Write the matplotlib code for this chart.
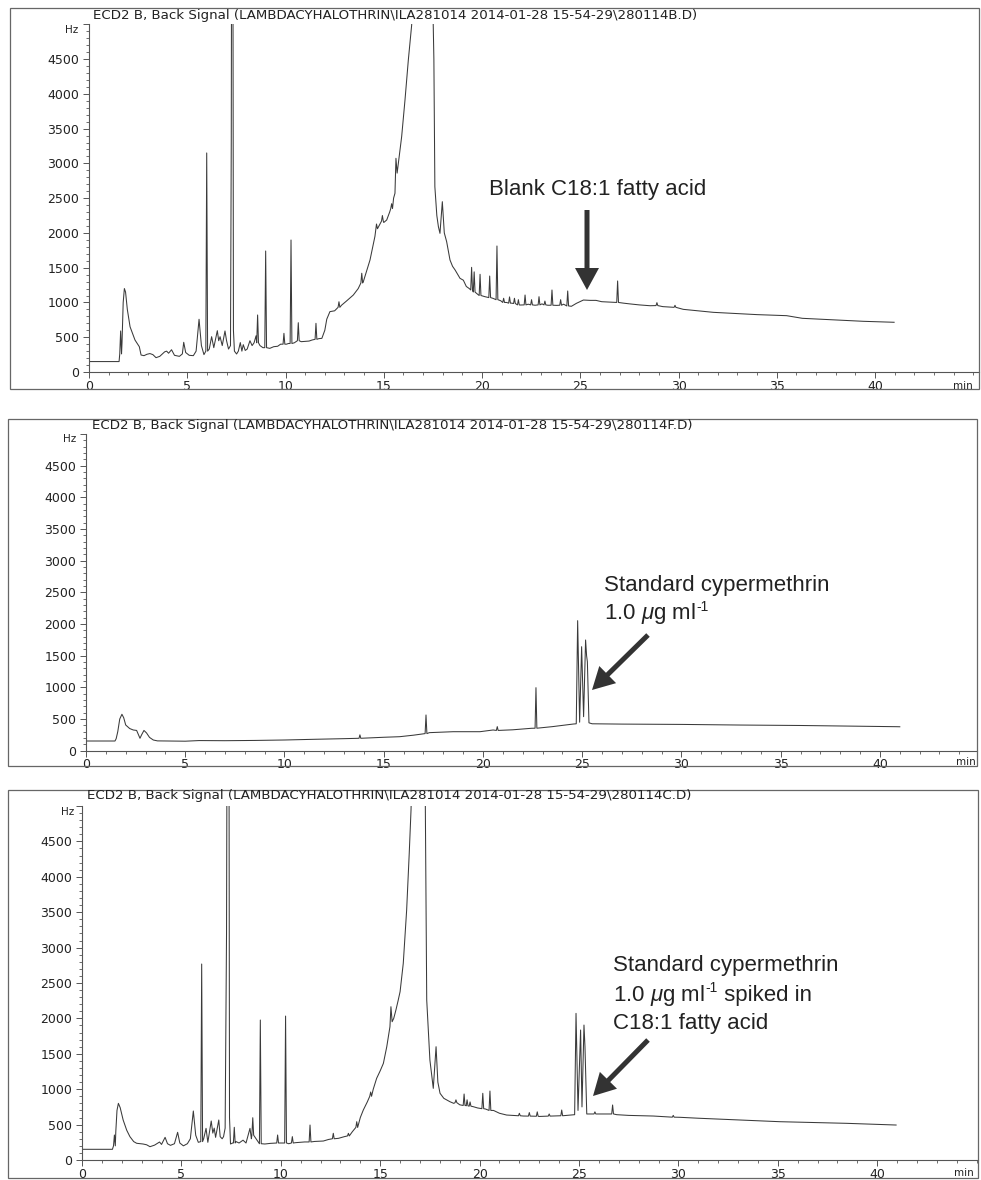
import numpy as np
import matplotlib
matplotlib.use("Agg")
import matplotlib.pyplot as plt
from matplotlib.patches import Rectangle, FancyArrow
from matplotlib.ticker import MultipleLocator

plt.rcParams["font.family"] = ["DejaVu Sans"]
plt.rcParams["mathtext.fontset"] = "custom"
plt.rcParams["mathtext.rm"] = "Liberation Sans"
plt.rcParams["mathtext.it"] = "Liberation Sans:italic"

TITLES = [
    "ECD2 B, Back Signal (LAMBDACYHALOTHRIN\\ILA281014 2014-01-28 15-54-29\\280114B.D)",
    "ECD2 B, Back Signal (LAMBDACYHALOTHRIN\\ILA281014 2014-01-28 15-54-29\\280114F.D)",
    "ECD2 B, Back Signal (LAMBDACYHALOTHRIN\\ILA281014 2014-01-28 15-54-29\\280114C.D)",
]
YTICKS = [0, 500, 1000, 1500, 2000, 2500, 3000, 3500, 4000, 4500]
XTICKS = [0, 5, 10, 15, 20, 25, 30, 35, 40]

# --- blank C18:1 fatty acid (B.D): slow baseline knots (min, Hz) ---
b_t = [0, 1.53, 1.68, 1.74, 1.80, 1.86, 1.95, 2.09, 2.34, 2.56, 2.65, 2.80, 2.95,
       3.10, 3.25, 3.41, 3.60, 3.85, 3.95, 4.05, 4.20, 4.35, 4.60, 4.75, 4.82,
       4.92, 5.10, 5.31, 5.45, 5.60, 5.72, 5.85, 6.12, 6.24, 6.35, 6.53, 6.60,
       6.67, 6.78, 6.92, 7.00, 7.10, 7.20, 7.24, 7.27, 7.31, 7.35, 7.40, 7.51,
       7.60, 7.70, 7.78, 7.85, 7.95, 8.05, 8.19, 8.30, 8.40, 8.50, 8.70, 8.85,
       9.20, 9.40, 9.60, 9.75, 10.05, 10.15, 10.45, 10.80, 11.00, 11.20, 11.35,
       11.70, 11.85, 12.00, 12.10, 12.26, 12.50, 12.85, 13.10, 13.45, 13.70,
       13.96, 14.30, 14.55, 14.63, 14.68, 15.00, 15.15, 15.30, 15.50, 15.57,
       15.62, 15.68, 15.74, 15.91, 16.08, 16.25, 16.42, 16.50, 17.45, 17.55,
       17.60, 17.70, 17.78, 17.86, 17.98, 18.08, 18.20, 18.37, 18.50, 18.63,
       18.88, 19.05, 19.20, 19.35, 19.72, 20.15, 20.55, 20.95, 21.25, 21.50,
       21.93, 22.35, 22.70, 23.05, 23.35, 23.80, 24.15, 24.55, 24.80, 25.16,
       25.50, 25.80, 26.09, 26.50, 26.75, 27.20, 27.50, 28.00, 28.55, 29.20,
       29.50, 30.24, 31.00, 31.77, 33.00, 34.00, 35.50, 36.30, 37.50, 39.40,
       40.97]
b_y = [150, 150, 420, 1000, 1200, 1150, 900, 650, 460, 364, 244, 235, 255,
       265, 250, 206, 225, 290, 300, 270, 320, 240, 225, 260, 427,
       280, 240, 235, 300, 758, 380, 250, 330, 508, 350, 594, 450,
       508, 380, 590, 450, 330, 380, 3350, 9000, 9000, 600, 300, 259,
       300, 423, 300, 393, 310, 330, 450, 380, 420, 520, 380, 350,
       340, 364, 370, 400, 400, 410, 420, 436, 440, 445, 460,
       480, 484, 600, 760, 868, 880, 960, 1020, 1107, 1200,
       1299, 1611, 1950, 2128, 2060, 2150, 2186, 2300, 2500, 2570,
       3073, 2860, 3000, 3384, 3911, 4487, 4990, 6000, 6000, 4500,
       2665, 2250, 2090, 1994, 2449, 2000, 1874, 1611, 1520, 1467,
       1347, 1320, 1230, 1200, 1131, 1083, 1060, 1025, 1000, 990,
       963, 975, 960, 980, 960, 958, 975, 945, 987, 1035,
       1030, 1030, 1011, 1005, 1000, 990, 980, 965, 953, 940,
       935, 901, 880, 858, 840, 825, 810, 772, 755, 729,
       715]
# narrow peaks: time, base, apex
b_pk_t = [1.61, 5.99, 8.58, 8.99, 9.92, 10.28, 10.65, 11.55, 12.72, 13.88,
          14.93, 15.40, 19.47, 19.60, 19.90, 20.39, 20.76, 21.10, 21.40, 21.65,
          21.85, 22.19, 22.52, 22.90, 23.20, 23.56, 24.00, 24.36, 26.90, 28.90,
          29.82]
b_pk_base = [260, 300, 420, 350, 400, 410, 450, 470, 930, 1280,
             2170, 2350, 1180, 1150, 1100, 1070, 1040, 1000, 990, 985,
             965, 965, 965, 965, 965, 960, 960, 950, 1000, 955,
             930]
b_pk_top = [590, 3150, 820, 1740, 556, 1898, 709, 700, 1010, 1420,
            2250, 2420, 1505, 1440, 1405, 1380, 1812, 1060, 1080, 1060,
            1040, 1107, 1040, 1083, 1020, 1179, 1040, 1165, 1309, 997,
            959]

# --- standard cypermethrin 1.0 ug/ml (F.D) ---
f_t = [0, 1.46, 1.52, 1.60, 1.70, 1.81, 1.90, 2.00, 2.20, 2.38, 2.55, 2.72,
       2.80, 2.92, 3.05, 3.20, 3.39, 3.60, 5.00, 5.70, 7.00, 8.50, 10.00,
       11.50, 13.00, 15.00, 15.80, 16.50, 17.30, 18.50, 19.85, 20.51, 21.50,
       22.45, 23.50, 24.55, 24.70, 24.77, 24.87, 24.97, 25.07, 25.17, 25.22,
       25.26, 25.34, 25.50, 27.00, 30.00, 33.00, 36.00, 40.84, 41.00]
f_y = [153, 153, 190, 300, 500, 575, 520, 406, 350, 327, 320, 196,
       250, 320, 280, 210, 169, 155, 150, 160, 158, 162, 169,
       180, 190, 212, 221, 245, 285, 300, 300, 327, 330,
       354, 380, 421, 425, 2053, 450, 1642, 537, 1748, 1500,
       1405, 440, 425, 420, 415, 405, 398, 379, 378]
f_pk_t = [13.80, 17.13, 20.72, 22.67]
f_pk_base = [196, 270, 320, 355]
f_pk_top = [250, 564, 380, 995]

# --- cypermethrin spiked in C18:1 fatty acid (C.D) ---
c_t = [0, 1.53, 1.70, 1.76, 1.83, 1.92, 2.07, 2.25, 2.41, 2.60, 2.75, 3.07,
       3.25, 3.42, 3.65, 3.90, 4.00, 4.18, 4.30, 4.45, 4.65, 4.81, 4.92,
       5.10, 5.30, 5.45, 5.60, 5.72, 5.85, 6.12, 6.24, 6.33, 6.50, 6.58,
       6.65, 6.72, 6.88, 6.95, 7.05, 7.12, 7.20, 7.27, 7.32, 7.38, 7.42,
       7.47, 7.58, 7.75, 7.90, 8.10, 8.25, 8.45, 8.52, 9.20, 9.48, 10.40,
       10.75, 11.00, 11.20, 11.70, 12.14, 12.40, 12.90, 13.20, 13.60, 14.00,
       14.15, 14.35, 14.65, 14.82, 15.00, 15.16, 15.33, 15.49, 15.54, 15.60,
       15.68, 15.79, 15.90, 16.00, 16.16, 16.33, 16.46, 16.55, 16.65, 17.20,
       17.27, 17.34, 17.50, 17.67, 17.81, 17.90, 18.01, 18.20, 18.51, 18.70,
       19.00, 19.30, 19.68, 19.90, 20.30, 20.70, 21.00, 21.36, 22.20, 23.00,
       24.00, 24.55, 24.78, 24.85, 24.95, 25.08, 25.15, 25.25, 25.30, 25.39,
       25.60, 26.20, 26.90, 27.50, 28.74, 30.08, 31.00, 32.26, 35.10, 38.46,
       40.95]
c_y = [151, 151, 400, 700, 800, 740, 565, 420, 330, 260, 236, 226,
       215, 188, 210, 254, 220, 320, 230, 207, 230, 391, 240,
       200, 230, 300, 692, 350, 250, 300, 447, 250, 551, 380,
       450, 320, 565, 330, 300, 330, 450, 3200, 9000, 9000, 600,
       226, 240, 260, 240, 280, 240, 447, 300, 226, 235, 230,
       245, 250, 255, 262, 268, 290, 306, 330, 400, 600,
       706, 820, 1000, 1153, 1260, 1365, 1600, 1882, 2165, 1953,
       2000, 2118, 2250, 2377, 2777, 3530, 4330, 4942, 6000, 6000,
       5000, 2259, 1412, 1012, 1600, 1100, 942, 871, 823, 800,
       780, 770, 753, 735, 720, 700, 660, 635, 621, 615,
       625, 635, 640, 2071, 700, 1836, 750, 1906, 1600, 650,
       650, 650, 640, 630, 621, 603, 590, 575, 541, 518,
       494]
c_pk_t = [1.63, 6.02, 7.66, 8.59, 8.97, 9.84, 10.24, 10.58, 11.47, 12.64,
          13.40, 13.82, 14.52, 18.81, 19.22, 19.37, 19.52, 20.16, 20.52, 22.00,
          22.50, 22.90, 23.50, 24.13, 25.80, 26.69, 29.74]
c_pk_base = [200, 260, 240, 350, 230, 240, 240, 240, 255, 300,
             340, 460, 900, 810, 770, 765, 760, 725, 700, 625,
             620, 618, 620, 625, 650, 650, 605]
c_pk_top = [353, 2768, 462, 597, 1977, 353, 2033, 330, 494, 377,
            377, 541, 960, 850, 932, 850, 820, 942, 974, 660,
            670, 680, 650, 706, 680, 777, 630]

W, H = 981, 1180
fig = plt.figure(figsize=(W / 100, H / 100), dpi=100)

LINE = "#3a3a3a"
AXC = "#555555"


def build(bt, by, pt, pb, ph, w=0.045):
    pts = [(t, y) for t, y in zip(bt, by)
           if all(abs(t - p) > w for p in pt)]
    for t, b, h in zip(pt, pb, ph):
        pts += [(t - w, b), (t, h), (t + w, b)]
    pts.sort()
    return np.array([p[0] for p in pts]), np.array([p[1] for p in pts])


def px_axes(left, right, top, bottom):
    return fig.add_axes([left / W, 1 - bottom / H, (right - left) / W,
                         (bottom - top) / H])


# panel boxes in pixels: (left, right, top, bottom) of the plotting area
panels = [
    dict(ax=(89, 979, 24.3, 372), xmax=45.29, data=(b_t, b_y, b_pk_t, b_pk_base, b_pk_top)),
    dict(ax=(86, 977, 434, 750.7), xmax=44.89, data=(f_t, f_y, f_pk_t, f_pk_base, f_pk_top)),
    dict(ax=(82, 978, 806, 1160), xmax=45.07, data=(c_t, c_y, c_pk_t, c_pk_base, c_pk_top)),
]

for p in panels:
    ax = px_axes(*p["ax"])
    t, y = build(*p["data"])
    ax.plot(t, y, color=LINE, lw=0.75)
    ax.set_xlim(0, p["xmax"])
    ax.set_ylim(0, 5000)
    ax.set_yticks(YTICKS + [5000])
    ax.set_yticklabels([str(v) for v in YTICKS] + [""])
    ax.set_xticks(XTICKS)
    ax.set_xticklabels([str(v) for v in XTICKS])
    ax.yaxis.set_minor_locator(MultipleLocator(100))
    ax.xaxis.set_minor_locator(MultipleLocator(1))
    ax.tick_params(which="major", length=4, width=0.7, color=AXC,
                   labelsize=9, labelcolor="#222222")
    ax.tick_params(which="minor", length=2.5, width=0.6, color=AXC)
    ax.tick_params(axis="x", pad=1.5)
    ax.tick_params(axis="y", pad=3)
    for s in ("top", "right"):
        ax.spines[s].set_visible(False)
    for s in ("left", "bottom"):
        ax.spines[s].set_color(AXC)
        ax.spines[s].set_linewidth(0.8)
    ax.patch.set_alpha(0)

# overlay in pixel coordinates for boxes, titles and annotations
ov = fig.add_axes([0, 0, 1, 1], zorder=10)
ov.set_xlim(0, W)
ov.set_ylim(H, 0)
ov.axis("off")
ov.patch.set_alpha(0)

boxes = [(10, 8, 969, 381), (8, 419, 969, 347), (8, 790, 970, 388)]
for (x0, y0, w, h) in boxes:
    ov.add_patch(Rectangle((x0, y0), w, h, fill=False, ec="#666666", lw=0.9))

title_pos = [(93, 15), (92, 425), (87, 796)]
for (x, y), s in zip(title_pos, TITLES):
    ov.text(x, y, s, fontsize=9.6, ha="left", va="center", color="#222222")

hz_pos = [(78, 30), (76, 439), (74, 812)]
for x, y in hz_pos:
    ov.text(x, y, "Hz", fontsize=7.5, ha="right", va="center", color="#222222")

min_pos = [(963, 386), (966, 762), (964, 1173)]
for x, y in min_pos:
    ov.text(x, y, "min", fontsize=7.5, ha="center", va="center", color="#222222")

TXT = dict(fontsize=16, family="Liberation Sans", color="#222222",
           ha="left", va="center")
ov.text(489, 190, "Blank C18:1 fatty acid", **TXT)
ov.text(604, 585, "Standard cypermethrin", **TXT)
ov.text(613, 966, "Standard cypermethrin", **TXT)
ov.text(613, 1023, "C18:1 fatty acid", **TXT)

# concentration lines with a small raised "-1"
fig.canvas.draw()
rend = fig.canvas.get_renderer()
inv = ov.transData.inverted()


def conc_line(x, y, tail=""):
    t = ov.text(x, y, r"1.0 $\mu$g ml", **TXT)
    bb = t.get_window_extent(rend)
    xr = inv.transform((bb.x1, bb.y1))[0]
    s = ov.text(xr + 0.5, y - 7, "-1", fontsize=10, family="Liberation Sans",
                color="#222222", ha="left", va="center")
    if tail:
        bb2 = s.get_window_extent(rend)
        xr2 = inv.transform((bb2.x1, bb2.y1))[0]
        ov.text(xr2, y, tail, **TXT)


conc_line(604, 614)
conc_line(613, 995, " spiked in")

ARW = dict(width=5, head_width=24, head_length=22, length_includes_head=True,
           color="#333333", lw=0)
ov.add_patch(FancyArrow(587, 210, 0, 80, **ARW))
ov.add_patch(FancyArrow(648, 635, -56, 55, **ARW))
ov.add_patch(FancyArrow(648, 1040, -55, 56, **ARW))

fig.savefig("out.png", dpi=100, facecolor="white")
